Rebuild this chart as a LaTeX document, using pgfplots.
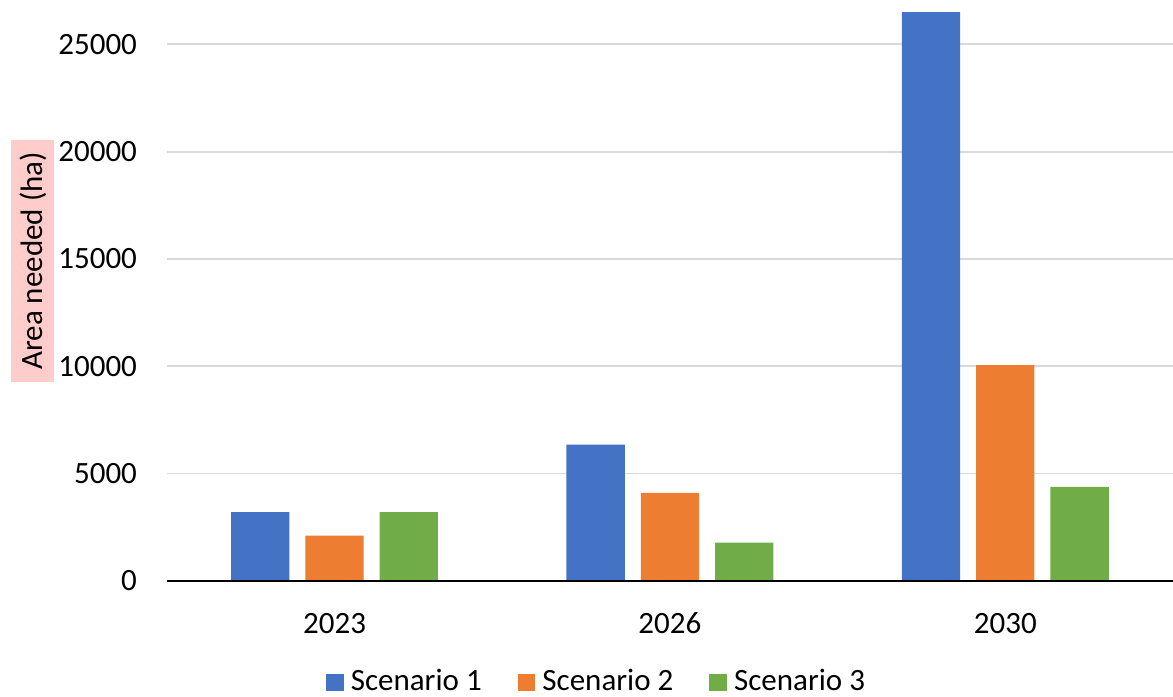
\documentclass[border=0pt]{standalone}
\usepackage{fontspec}
\setmainfont{Carlito}
\usepackage{pgfplots}
\pgfplotsset{compat=1.18}
\definecolor{s1}{HTML}{4472C4}
\definecolor{s2}{HTML}{ED7D31}
\definecolor{s3}{HTML}{70AD47}
\definecolor{gridc}{HTML}{D9D9D9}
\definecolor{pinkbg}{HTML}{FFCCCC}
\newcommand{\chartfont}{\fontsize{15.5pt}{18pt}\selectfont}
\begin{document}
\begin{tikzpicture}
\begin{axis}[
  at={(0,0)}, anchor=south west,
  width=503pt, height=289.65pt, scale only axis,
  xmin=-0.5, xmax=2.5, ymin=0, ymax=27000,
  clip=false,
  ybar, bar width=29.15pt,
  xtick={0,1,2}, xticklabels={2023,2026,2030},
  ytick={0,5000,10000,15000,20000,25000},
  scaled y ticks=false,
  /pgf/number format/1000 sep={},
  /pgf/number format/assume math mode=true,
  major tick length=0pt,
  axis line style={draw=none},
  ymajorgrids, grid style={gridc, line width=0.9pt},
  tick label style={font=\chartfont, text=black},
  y tick label style={anchor=east, inner sep=0pt, xshift=-14.75pt, text height=9.8pt, text depth=0pt},
  x tick label style={anchor=north, inner sep=0pt, yshift=-16.3pt, text height=9.8pt, text depth=0pt},
  ylabel={Area needed (ha)},
  ylabel style={at={(axis description cs:-0.1335,0.5522)}, anchor=center, fill=pinkbg, inner sep=0pt,
    minimum width=120.85pt, minimum height=21.5pt, text height=10pt, text depth=0pt, font=\chartfont, text=black},
  legend columns=3,
  legend style={at={(0.4296,-0.1725)}, anchor=center, draw=none, fill=none, font=\chartfont,
    nodes={inner xsep=3.5pt, inner ysep=0pt, text height=10pt, text depth=0pt},
    /tikz/every even column/.append style={column sep=14.5pt}},
  legend image code/.code={\fill[#1] (0pt,-5pt) rectangle (8.85pt,3.5pt);},
]
\addplot[fill=s1, draw=none, bar shift=-37.15pt] coordinates {(0,3200) (1,6350) (2,26500)};
\addplot[fill=s2, draw=none, bar shift=0pt] coordinates {(0,2100) (1,4100) (2,10050)};
\addplot[fill=s3, draw=none, bar shift=37.15pt] coordinates {(0,3200) (1,1780) (2,4380)};
\legend{Scenario 1, Scenario 2, Scenario 3}
\addplot[sharp plot, black, line width=1.25pt, forget plot] coordinates {(-0.5,0) (2.5,0)};
\end{axis}
\pgfresetboundingbox
\path[use as bounding box] (-83.4pt,-57.65pt) rectangle (503pt,290.35pt);
\end{tikzpicture}
\end{document}
